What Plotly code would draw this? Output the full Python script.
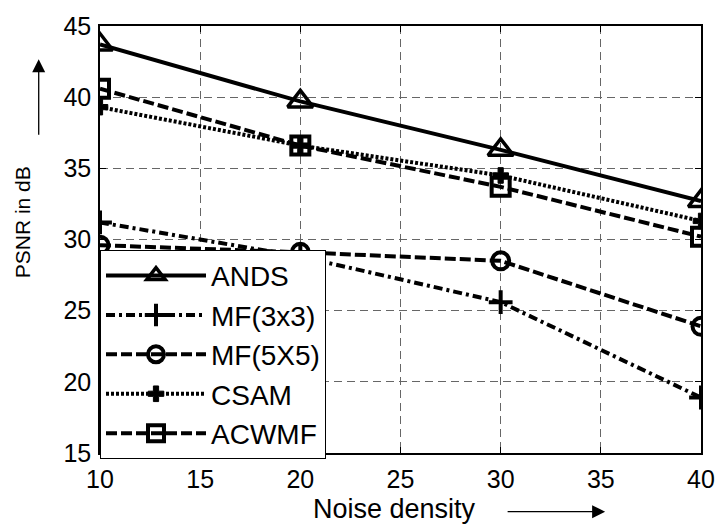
import plotly.graph_objects as go

noise_density = [10, 20, 30, 40]
ands = [43.7, 39.7, 36.3, 32.7]
mf3x3 = [31.2, 28.8, 25.6, 18.9]
mf5x5 = [29.6, 29.1, 28.5, 23.9]
csam = [39.3, 36.6, 34.5, 31.3]
acwmf = [40.6, 36.6, 33.7, 30.2]

x_ticks = [10, 15, 20, 25, 30, 35, 40]
y_ticks = [15, 20, 25, 30, 35, 40, 45]

FONT = "Liberation Sans, Arial, sans-serif"
L, R, T, B = 100, 19, 16, 76
W, H = 727, 529
PW, PH = W - L - R, H - T - B

def px(xp):
    return (xp - L) / PW

def py(yp):
    return (H - B - yp) / PH

series = [
    ("ANDS", ands, "solid", dict(symbol="triangle-up-open", size=22, line=dict(width=3.5, color="black"))),
    ("MF(3x3)", mf3x3, "9px,4px,3px,4px", dict(symbol="cross-thin-open", size=17, line=dict(width=4, color="black"))),
    ("MF(5X5)", mf5x5, "11px,4px", dict(symbol="circle-open", size=17, line=dict(width=4, color="black"))),
    ("CSAM", csam, "3px,2px", dict(symbol="cross", size=13, color="black", line=dict(width=1, color="black"))),
    ("ACWMF", acwmf, "11px,4px", dict(symbol="square-open", size=18, line=dict(width=4, color="black"))),
]

fig = go.Figure()
for i, (name, vals, dash, marker) in enumerate(series):
    fig.add_trace(go.Scatter(
        x=noise_density, y=vals, name=name, mode="lines+markers",
        line=dict(color="black", width=4, dash=dash),
        marker=marker, legendgroup=f"g{i}",
    ))

axis_common = dict(
    showline=True, linecolor="black", linewidth=1.5, mirror="allticks",
    ticks="inside", ticklen=6, tickcolor="black",
    showgrid=True, gridcolor="#666666", gridwidth=1, griddash="8px,5px",
    zeroline=False, tickfont=dict(family=FONT, size=25, color="black"),
)

fig.update_layout(
    width=W, height=H,
    margin=dict(l=L, r=R, t=T, b=B),
    paper_bgcolor="white", plot_bgcolor="white",
    font=dict(family=FONT, color="black"),
    xaxis=dict(range=[10, 40], tickvals=x_ticks, ticklabelstandoff=3, **axis_common),
    yaxis=dict(range=[15, 45], tickvals=y_ticks, ticklabelstandoff=2, **axis_common),
    showlegend=True,
    legend=dict(
        x=0, y=py(459), xanchor="left", yanchor="bottom",
        bgcolor="white", bordercolor="black", borderwidth=1,
        font=dict(family=FONT, size=28, color="black"),
        itemwidth=100, tracegroupgap=0,
    ),
    annotations=[
        dict(text="Noise density", xref="paper", yref="paper", x=px(398), y=py(510),
             showarrow=False, font=dict(family=FONT, size=27, color="black"),
             xanchor="center", yanchor="middle"),
        dict(text="PSNR in dB", xref="paper", yref="paper", x=px(22), y=py(217),
             showarrow=False, textangle=-90, font=dict(family=FONT, size=21, color="black"),
             xanchor="center", yanchor="middle"),
        dict(text="", xref="paper", yref="paper", x=px(611), y=py(513),
             ax=-99, ay=0, showarrow=True, arrowhead=2, arrowsize=2, arrowwidth=1.3,
             arrowcolor="black"),
        dict(text="", xref="paper", yref="paper", x=px(38), y=py(50),
             ax=0, ay=77, showarrow=True, arrowhead=2, arrowsize=2, arrowwidth=1.3,
             arrowcolor="black"),
    ],
)

fig.write_html("out.html")
